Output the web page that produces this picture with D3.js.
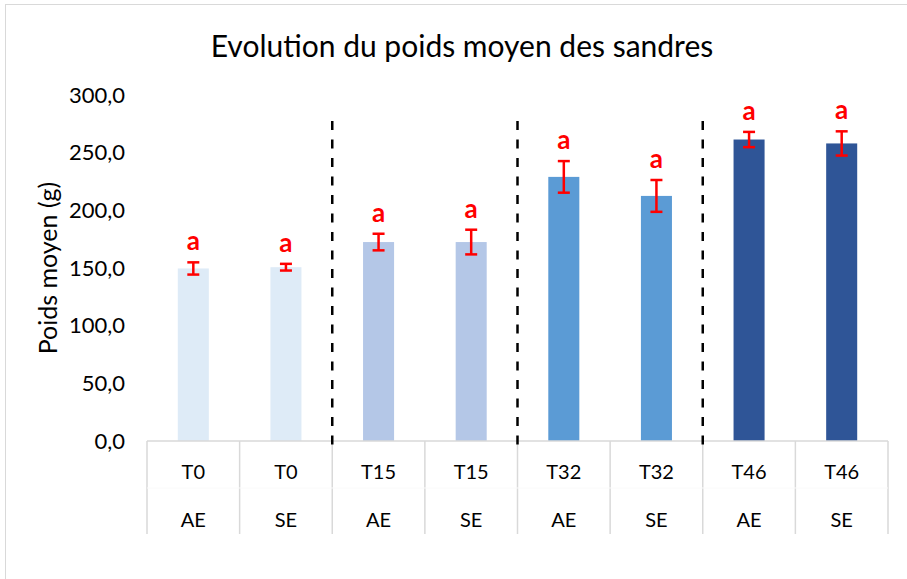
<!DOCTYPE html>
<html>
<head>
<meta charset="utf-8">
<script src="https://cdn.jsdelivr.net/npm/d3@7"></script>
<style>
  html, body { margin: 0; padding: 0; background: #fff; }
  svg { display: block; font-family: Lato, "Open Sans", sans-serif; }
</style>
</head>
<body>
<svg id="chart" width="907" height="579"></svg>
<script>
// ---- data ----
const times = ["T0", "T0", "T15", "T15", "T32", "T32", "T46", "T46"];
const treatments = ["AE", "SE", "AE", "SE", "AE", "SE", "AE", "SE"];
const means = [149.6, 150.7, 172.5, 172.5, 229.0, 212.5, 261.4, 258.0];
const errors = [5.3, 2.9, 7.2, 10.7, 13.7, 13.8, 6.6, 10.5];
const letters = ["a", "a", "a", "a", "a", "a", "a", "a"];
const yTicks = [0, 50, 100, 150, 200, 250, 300];
const timeColors = { T0: "#DEEBF7", T15: "#B4C7E7", T32: "#5B9BD5", T46: "#2F5597" };
const chartTitle = "Evolution du poids moyen des sandres";
const yTitle = "Poids moyen (g)";

// ---- layout ----
const svg = d3.select("#chart");
const pLeft = 147, pRight = 888, pTop = 95, pBottom = 441;
const tableBottom = 534;

const x = d3.scaleBand().domain(d3.range(means.length)).range([pLeft, pRight]).paddingInner(0).paddingOuter(0);
const y = d3.scaleLinear().domain([0, 300]).range([pBottom, pTop]);
const fr = d3.formatLocale({ decimal: ",", thousands: " ", grouping: [3], currency: ["", "€"] });
const fmt = fr.format(".1f");

// chart border (partially cropped)
svg.append("rect").attr("x", 5.5).attr("y", 4.5).attr("width", 1000).attr("height", 1000)
  .attr("fill", "none").attr("stroke", "#d9d9d9").attr("stroke-width", 1);

// title
svg.append("text").attr("x", 462).attr("y", 57).attr("text-anchor", "middle")
  .attr("font-size", 30).attr("fill", "#000").text(chartTitle);

// y axis
const yAxis = d3.axisLeft(y).tickValues(yTicks).tickFormat(fmt).tickSize(0).tickPadding(0);
const yg = svg.append("g").attr("transform", `translate(125,0)`).call(yAxis);
yg.select(".domain").remove();
yg.selectAll("text").attr("font-size", 22).attr("fill", "#000").attr("font-family", "Lato, 'Open Sans', sans-serif");

// y title
svg.append("text").attr("transform", `translate(48,${(pTop + pBottom) / 2}) rotate(-90)`)
  .attr("text-anchor", "middle").attr("dy", "0.35em").attr("font-size", 25).attr("fill", "#000").text(yTitle);

// bars
const bw = x.bandwidth() * 0.335;
svg.append("g").selectAll("rect").data(means).join("rect")
  .attr("x", (d, i) => x(i) + x.bandwidth() / 2 - bw / 2)
  .attr("y", d => y(d))
  .attr("width", bw)
  .attr("height", d => y(0) - y(d))
  .attr("fill", (d, i) => timeColors[times[i]]);

// x axis / table lines
const xAxis = d3.axisBottom(x).tickSize(0).tickFormat("");
const xg = svg.append("g").attr("transform", `translate(0,${pBottom})`).call(xAxis);
xg.select(".domain").attr("stroke", "#d9d9d9").attr("stroke-width", 1.5).attr("d", `M${pLeft},0H${pRight}`);

const boundaries = d3.range(means.length + 1).map(i => i < means.length ? x(i) : x(means.length - 1) + x.bandwidth());
svg.append("g").selectAll("line").data(boundaries).join("line")
  .attr("x1", d => d).attr("x2", d => d).attr("y1", pBottom).attr("y2", tableBottom)
  .attr("stroke", "#d9d9d9").attr("stroke-width", 1.5);
svg.append("line").attr("x1", pLeft).attr("x2", pRight).attr("y1", 488).attr("y2", 488)
  .attr("stroke", "#fafafa").attr("stroke-width", 1);

// category labels
const lab = svg.append("g").attr("font-size", 20).attr("fill", "#000").attr("text-anchor", "middle");
lab.selectAll("text.t").data(times).join("text").attr("class", "t")
  .attr("x", (d, i) => x(i) + x.bandwidth() / 2).attr("y", 472).attr("dy", "0.35em").text(d => d);
lab.selectAll("text.s").data(treatments).join("text").attr("class", "s")
  .attr("x", (d, i) => x(i) + x.bandwidth() / 2).attr("y", 520).attr("dy", "0.35em").text(d => d);

// dashed separators between time groups
const sepIdx = [2, 4, 6];
svg.append("g").selectAll("line").data(sepIdx).join("line")
  .attr("x1", i => x(i)).attr("x2", i => x(i)).attr("y1", 121).attr("y2", 445)
  .attr("stroke", "#000").attr("stroke-width", 2.5).attr("stroke-dasharray", "9,9.5");

// error bars
const eg = svg.append("g").attr("stroke", "#ff0000").attr("stroke-width", 2.5);
const cap = 6;
means.forEach((m, i) => {
  const cx = x(i) + x.bandwidth() / 2;
  const y1 = y(m + errors[i]), y2 = y(m - errors[i]);
  eg.append("line").attr("x1", cx).attr("x2", cx).attr("y1", y1).attr("y2", y2);
  eg.append("line").attr("x1", cx - cap).attr("x2", cx + cap).attr("y1", y1).attr("y2", y1);
  eg.append("line").attr("x1", cx - cap).attr("x2", cx + cap).attr("y1", y2).attr("y2", y2);
});

// significance letters
svg.append("g").selectAll("text").data(letters).join("text")
  .attr("x", (d, i) => x(i) + x.bandwidth() / 2)
  .attr("y", (d, i) => y(means[i] + errors[i]) - 12)
  .attr("text-anchor", "middle").attr("font-size", 26).attr("font-weight", "bold")
  .attr("fill", "#ff0000").text(d => d);
</script>
</body>
</html>
